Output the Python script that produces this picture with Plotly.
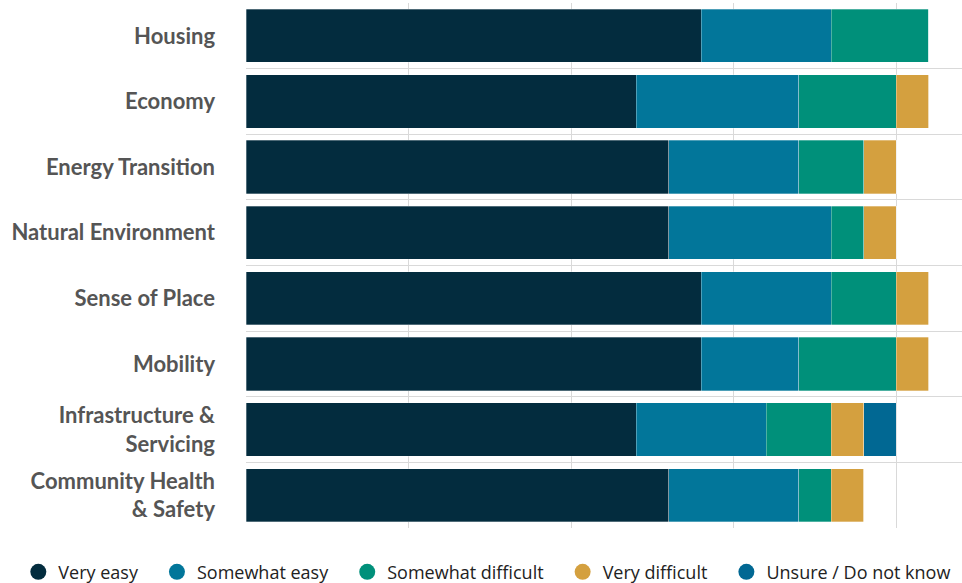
import plotly.graph_objects as go

categories = ["Housing", "Economy", "Energy Transition", "Natural Environment",
              "Sense of Place", "Mobility", "Infrastructure &<br>Servicing",
              "Community Health<br>& Safety"]
series_names = ["Very easy", "Somewhat easy", "Somewhat difficult", "Very difficult", "Unsure / Do not know"]
very_easy = [14, 12, 13, 13, 14, 14, 12, 13]
somewhat_easy = [4, 5, 4, 5, 4, 3, 4, 4]
somewhat_difficult = [3, 3, 2, 1, 2, 3, 2, 1]
very_difficult = [0, 1, 1, 1, 1, 1, 1, 1]
unsure = [0, 0, 0, 0, 0, 0, 1, 0]
colors = ["#032c3e", "#02769a", "#00907a", "#d4a03f", "#016893"]

values = [very_easy, somewhat_easy, somewhat_difficult, very_difficult, unsure]
ypos = list(range(len(categories)))

fig = go.Figure()
for name, vals, col in zip(series_names, values, colors):
    fig.add_trace(go.Bar(
        x=vals, y=ypos, orientation="h", name=name,
        marker=dict(color=col, line=dict(color="rgba(255,255,255,0.5)", width=0.6)),
        showlegend=False,
    ))
for i, (name, col) in enumerate(zip(series_names, colors)):
    pad = "\u00a0\u00a0\u00a0" if i < len(series_names) - 1 else ""
    fig.add_trace(go.Scatter(
        x=[None], y=[None], mode="markers", name=name + pad,
        marker=dict(color=col, size=16, symbol="circle"),
        showlegend=True,
    ))

fig.update_layout(
    barmode="stack",
    bargap=0.19,
    width=962, height=583,
    margin=dict(l=246, r=0, t=3, b=55, autoexpand=False),
    paper_bgcolor="white", plot_bgcolor="white",
    xaxis=dict(range=[0, 22.03], tickvals=[0, 5, 10, 15, 20], showticklabels=False,
               showgrid=True, gridcolor="#d9d9d9", gridwidth=1, zeroline=False,
               showline=False, fixedrange=True, automargin=False),
    yaxis=dict(range=[7.5, -0.5], tickvals=ypos, ticktext=categories,
               showgrid=False, zeroline=False, showline=False, automargin=False,
               ticklabelstandoff=30, fixedrange=True,
               tickfont=dict(family="Lato", size=22, color="#555555", weight="bold"),
               minor=dict(tickvals=[i - 0.5 for i in range(len(categories) + 1)],
                          showgrid=True, gridcolor="#d9d9d9", gridwidth=1, ticklen=0)),
    legend=dict(orientation="h", x=-0.318, xanchor="left", y=-0.084, yanchor="middle",
                traceorder="normal",
                font=dict(family="Open Sans", size=18, color="#222222"),
                itemwidth=30, tracegroupgap=0),
    showlegend=True,
)

fig.write_html("out.html", config={"displayModeBar": False},
               post_script="document.body.style.margin='0px';")
